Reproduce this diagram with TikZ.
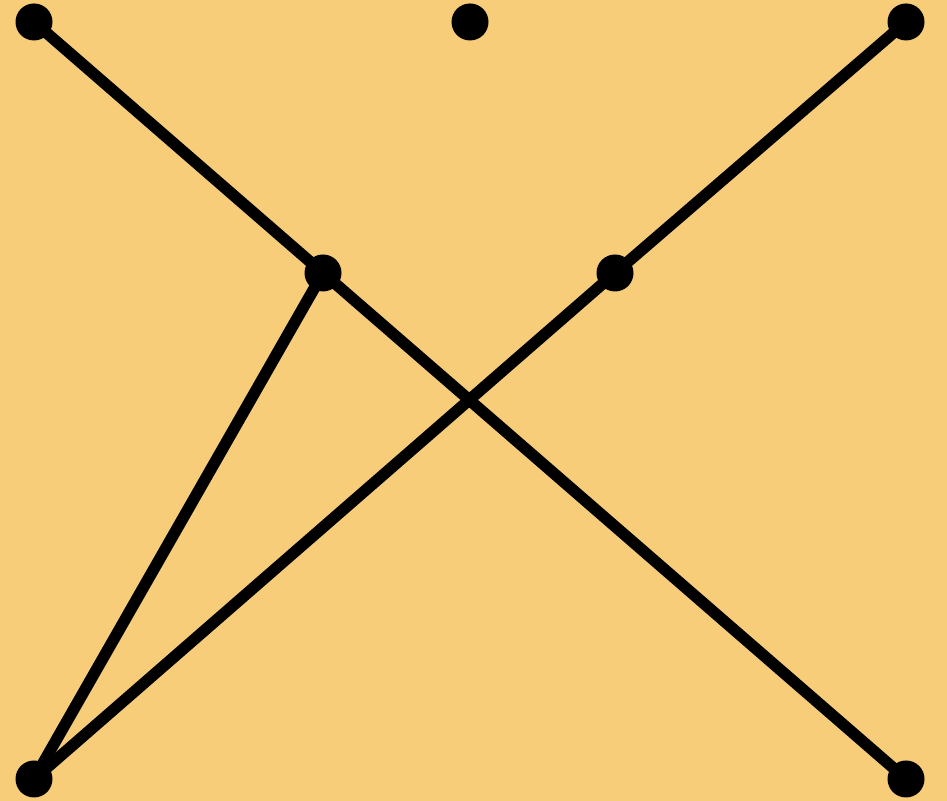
\documentclass[tikz,border=0pt]{standalone}
\usepackage{tikz}
\usetikzlibrary{positioning}
\definecolor{gBack}{HTML}{F7CD7A}
\definecolor{gInk}{HTML}{000000}
\tikzset{
  vtx/.style={circle, fill=gInk, inner sep=0pt, minimum size=0.37cm},
  edg/.style={draw=gInk, line width=0.115cm},
}
\begin{document}
\begin{tikzpicture}
  \fill[gBack] (0,0) rectangle (9.47,8.01);
  \useasboundingbox (0,0) rectangle (9.47,8.01);
  % vertex positions
  \coordinate (tl) at (0.34,7.79);
  \coordinate (tm) at (4.70,7.79);
  \coordinate (tr) at (9.06,7.79);
  \coordinate (ml) at (3.23,5.28);
  \coordinate (mr) at (6.15,5.28);
  \coordinate (bl) at (0.34,0.22);
  \coordinate (br) at (9.06,0.22);
  % edges
  \draw[edg] (tl) -- (ml);
  \draw[edg] (ml) -- (br);
  \draw[edg] (tr) -- (mr);
  \draw[edg] (mr) -- (bl);
  \draw[edg] (ml) -- (bl);
  % vertices
  \foreach \v in {tl,tm,tr,ml,mr,bl,br} {\node[vtx] (\v-dot) at (\v) {};}
\end{tikzpicture}
\end{document}
